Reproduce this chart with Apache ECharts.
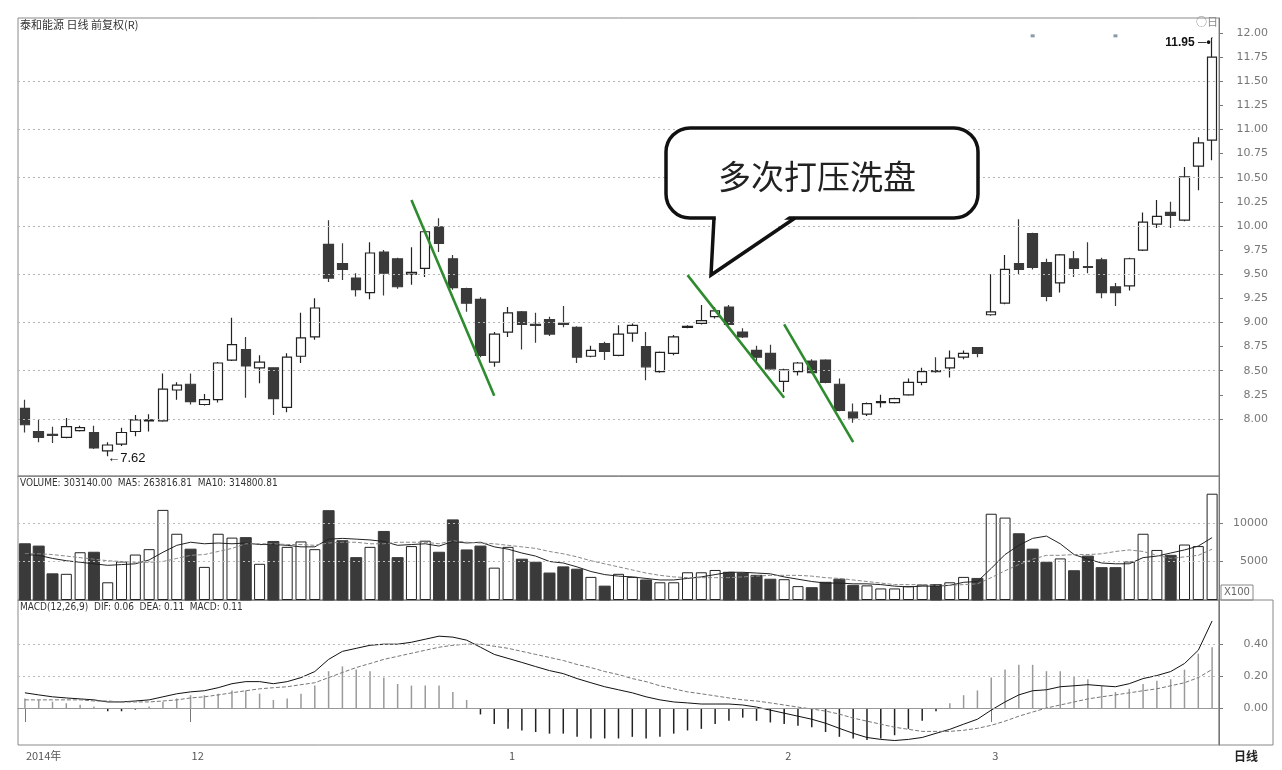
<!DOCTYPE html>
<html><head><meta charset="utf-8">
<script src="https://cdn.jsdelivr.net/npm/echarts@6/dist/echarts.min.js"></script>
<style>html,body{margin:0;padding:0;background:#fff}#c{width:1282px;height:770px}</style>
</head><body><div id="c"></div>
<script>
const dates = [
'2014-11-13','2014-11-14','2014-11-17','2014-11-18','2014-11-19','2014-11-20','2014-11-21','2014-11-24','2014-11-25','2014-11-26','2014-11-27','2014-11-28',
'2014-12-01','2014-12-02','2014-12-03','2014-12-04','2014-12-05','2014-12-08','2014-12-09','2014-12-10','2014-12-11','2014-12-12','2014-12-15','2014-12-16','2014-12-17','2014-12-18','2014-12-19','2014-12-22','2014-12-23','2014-12-24','2014-12-25','2014-12-26','2014-12-29','2014-12-30','2014-12-31',
'2015-01-05','2015-01-06','2015-01-07','2015-01-08','2015-01-09','2015-01-12','2015-01-13','2015-01-14','2015-01-15','2015-01-16','2015-01-19','2015-01-20','2015-01-21','2015-01-22','2015-01-23','2015-01-26','2015-01-27','2015-01-28','2015-01-29','2015-01-30',
'2015-02-02','2015-02-03','2015-02-04','2015-02-05','2015-02-06','2015-02-09','2015-02-10','2015-02-11','2015-02-12','2015-02-13','2015-02-16','2015-02-17','2015-02-25','2015-02-26','2015-02-27',
'2015-03-02','2015-03-03','2015-03-04','2015-03-05','2015-03-06','2015-03-09','2015-03-10','2015-03-11','2015-03-12','2015-03-13','2015-03-16','2015-03-17','2015-03-18','2015-03-19','2015-03-20','2015-03-23','2015-03-24'
];
const opens  = [8.11,7.87,7.84,7.81,7.88,7.86,7.67,7.74,7.87,7.98,7.98,8.30,8.36,8.15,8.20,8.61,8.72,8.53,8.53,8.12,8.65,8.85,9.81,9.61,9.46,9.31,9.73,9.66,9.50,9.56,9.99,9.66,9.35,9.24,8.59,8.90,9.11,8.98,9.03,8.99,8.95,8.65,8.78,8.66,8.89,8.75,8.49,8.68,8.95,8.99,9.06,9.16,8.90,8.71,8.68,8.39,8.49,8.60,8.61,8.36,8.07,8.05,8.17,8.17,8.25,8.38,8.50,8.53,8.64,8.74,9.08,9.20,9.61,9.92,9.62,9.41,9.66,9.58,9.65,9.37,9.38,9.75,10.02,10.14,10.06,10.62,10.89];
const closes = [7.94,7.81,7.83,7.92,7.91,7.70,7.73,7.86,7.99,7.99,8.31,8.35,8.18,8.20,8.58,8.77,8.55,8.59,8.21,8.64,8.84,9.15,9.46,9.55,9.34,9.72,9.51,9.37,9.52,9.94,9.82,9.36,9.20,8.66,8.88,9.10,8.98,8.97,8.88,8.98,8.64,8.71,8.70,8.88,8.97,8.54,8.69,8.85,8.96,9.02,9.12,8.98,8.85,8.64,8.52,8.51,8.58,8.48,8.38,8.09,8.01,8.16,8.18,8.21,8.38,8.49,8.49,8.63,8.68,8.68,9.11,9.55,9.55,9.57,9.27,9.70,9.56,9.57,9.31,9.31,9.66,10.04,10.10,10.11,10.51,10.86,11.75];
const lows   = [7.86,7.76,7.75,7.80,7.87,7.69,7.62,7.72,7.82,7.87,7.97,8.20,8.15,8.14,8.17,8.60,8.22,8.37,8.04,8.07,8.58,8.82,9.42,9.44,9.27,9.24,9.28,9.35,9.39,9.47,9.73,9.34,9.11,8.64,8.54,8.85,8.72,8.79,8.86,8.95,8.58,8.64,8.61,8.65,8.80,8.40,8.48,8.66,8.94,8.98,9.04,8.97,8.84,8.60,8.51,8.28,8.45,8.47,8.37,8.08,7.96,8.03,8.12,8.16,8.24,8.35,8.48,8.43,8.62,8.64,9.07,9.19,9.50,9.55,9.22,9.31,9.47,9.51,9.25,9.17,9.33,9.74,9.98,9.98,10.05,10.37,10.68];
const highs  = [8.20,7.99,7.92,8.01,7.93,7.93,7.76,7.91,8.04,8.05,8.47,8.38,8.47,8.26,8.59,9.05,8.85,8.66,8.53,8.68,9.10,9.25,10.06,9.82,9.51,9.83,9.75,9.67,9.78,9.96,10.08,9.70,9.36,9.26,8.90,9.16,9.12,9.10,9.06,9.17,8.96,8.76,8.80,8.97,8.99,8.90,8.70,8.87,8.97,9.18,9.16,9.18,8.94,8.76,8.77,8.52,8.59,8.62,8.62,8.42,8.16,8.17,8.25,8.22,8.42,8.53,8.64,8.71,8.71,8.74,9.50,9.70,10.07,9.93,9.66,9.71,9.74,9.83,9.67,9.41,9.67,10.14,10.27,10.25,10.61,10.92,11.95];
const volumes = [7300,7000,3400,3400,6200,6200,2300,5000,5900,6600,11700,8600,6600,4300,8600,8100,8100,4700,7600,6900,7600,6600,11600,7700,5500,6900,8900,5500,7000,7700,6200,10400,6500,7000,4200,6900,5300,4900,3500,4300,4000,3000,1800,3400,3000,2600,2300,2300,3600,3600,3900,3600,3500,3200,2700,2700,1800,1600,2300,2700,1900,1900,1500,1500,1800,2000,2000,2300,3000,2800,11200,10700,8600,6600,4900,5400,3800,5700,4200,4200,5000,8600,6500,5800,7200,7000,13800];
const volMA5  = [5900,5800,5400,5100,4900,4700,4500,4600,4700,5200,6200,7100,7500,7300,7400,7300,7400,7200,7200,7100,6900,6900,7900,8000,7900,7800,7600,7100,7200,7300,7000,7600,7400,7500,6900,6600,6100,5700,5000,4800,4300,3700,3300,3100,3000,2800,2600,2600,2800,3000,3300,3600,3600,3500,3400,3000,2700,2400,2200,2200,2100,2100,2000,1800,1700,1800,1800,1900,2300,2400,4100,5900,7100,8000,8300,7300,5900,5300,4800,4700,4700,5500,5700,6100,6500,7000,8100];
const volMA10 = [6000,6000,5900,5700,5500,5300,5100,5000,4900,4900,5000,5400,5800,5900,6300,6700,7300,7300,7300,7200,7200,7100,7400,7500,7500,7300,7300,7500,7500,7500,7300,7700,7500,7400,7300,7100,6900,6700,6300,6000,5600,5100,4700,4300,3900,3500,3200,3000,2900,2900,2900,2900,3000,3100,3200,3200,3200,3100,2900,2800,2600,2400,2200,2000,2000,2000,1900,1900,2000,2100,2900,3800,4600,5300,5800,5800,5900,5900,6000,6300,6500,6300,5800,5400,5600,5800,6600];
const dif = [0.095,0.082,0.070,0.063,0.057,0.051,0.038,0.038,0.044,0.051,0.070,0.089,0.101,0.108,0.127,0.152,0.165,0.165,0.152,0.165,0.190,0.228,0.304,0.354,0.373,0.392,0.399,0.399,0.411,0.430,0.449,0.443,0.424,0.380,0.335,0.310,0.285,0.259,0.234,0.215,0.184,0.158,0.133,0.114,0.095,0.070,0.051,0.038,0.032,0.025,0.025,0.025,0.019,0.006,-0.013,-0.032,-0.051,-0.070,-0.095,-0.127,-0.158,-0.184,-0.196,-0.203,-0.196,-0.184,-0.158,-0.133,-0.101,-0.070,-0.013,0.038,0.082,0.108,0.114,0.133,0.139,0.146,0.139,0.133,0.152,0.184,0.203,0.228,0.278,0.361,0.544];
const dea = [0.051,0.051,0.051,0.051,0.051,0.044,0.044,0.038,0.038,0.038,0.044,0.051,0.063,0.070,0.082,0.095,0.108,0.120,0.127,0.133,0.146,0.158,0.190,0.222,0.253,0.278,0.304,0.323,0.342,0.361,0.380,0.392,0.399,0.399,0.386,0.373,0.354,0.335,0.316,0.297,0.272,0.253,0.228,0.209,0.184,0.165,0.139,0.120,0.101,0.089,0.076,0.063,0.051,0.044,0.032,0.019,0.006,-0.006,-0.019,-0.038,-0.063,-0.082,-0.101,-0.120,-0.133,-0.146,-0.146,-0.146,-0.139,-0.127,-0.108,-0.082,-0.051,-0.025,0.000,0.019,0.038,0.057,0.070,0.082,0.095,0.108,0.120,0.139,0.158,0.190,0.241];
const macdHist = [0.06,0.05,0.04,0.03,0.02,0.01,-0.02,-0.02,-0.01,0.01,0.04,0.06,0.08,0.08,0.09,0.11,0.11,0.09,0.05,0.06,0.09,0.14,0.23,0.26,0.24,0.23,0.19,0.15,0.14,0.14,0.14,0.10,0.05,-0.04,-0.10,-0.13,-0.14,-0.15,-0.16,-0.16,-0.18,-0.19,-0.19,-0.19,-0.18,-0.19,-0.18,-0.16,-0.14,-0.13,-0.10,-0.08,-0.06,-0.08,-0.09,-0.10,-0.11,-0.12,-0.15,-0.18,-0.19,-0.20,-0.19,-0.17,-0.13,-0.08,-0.02,0.03,0.08,0.11,0.19,0.24,0.27,0.27,0.23,0.23,0.20,0.18,0.14,0.10,0.12,0.15,0.17,0.18,0.24,0.34,0.38];
const priceTicks = [8.00,8.25,8.50,8.75,9.00,9.25,9.50,9.75,10.00,10.25,10.50,10.75,11.00,11.25,11.50,11.75,12.00];
const priceGridLines = [8.0,8.5,9.0,9.5,10.0,10.5,11.0,11.5];
const volTicks = [5000,10000];
const macdTicks = [0.00,0.20,0.40];
const trendLines = [[[28,10.27],[34,8.24]],[[48,9.49],[55,8.22]],[[55,8.98],[60,7.76]]];
const eventMarks = [[73, 11.97], [79, 11.97]];
const titleText = '泰和能源 日线 前复权(R)';
const volText = 'VOLUME: 303140.00  MA5: 263816.81  MA10: 314800.81';
const macdText = 'MACD(12,26,9)  DIF: 0.06  DEA: 0.11  MACD: 0.11';
const bubbleText = '多次打压洗盘';

const xLabelAt = dates.map((d, i) => i === 0 ? d.slice(0, 4) + '年' : (d.slice(5, 7) !== dates[i - 1].slice(5, 7) ? String(parseInt(d.slice(5, 7), 10)) : ''));
const candleData = dates.map((d, i) => [opens[i], closes[i], lows[i], highs[i]]);
const volData = volumes.map((v, i) => ({
  value: v,
  itemStyle: closes[i] >= opens[i] ? {color: '#fff', borderColor: '#222', borderWidth: 1} : {color: '#3a3a3a', borderColor: '#3a3a3a'}
}));
const histData = macdHist.map(v => ({value: v, itemStyle: {color: v >= 0 ? '#9a9a9a' : '#222'}}));

const FONT = '"Noto Sans CJK SC", "Noto Sans", sans-serif';
const grids = [
  {left: 18, right: 63, top: 18, height: 458},
  {left: 18, right: 63, top: 476, height: 124},
  {left: 18, right: 63, top: 600, height: 145}
].map(g => Object.assign(g, {show: true, borderColor: '#8a8a8a', borderWidth: 1, backgroundColor: 'transparent'}));

function xAxisFor(idx, showLabels) {
  return {
    type: 'category', gridIndex: idx, data: dates, boundaryGap: true,
    axisLine: {show: true, lineStyle: {color: '#8a8a8a'}},
    axisTick: showLabels ? {show: true, alignWithLabel: true, length: 14, interval: (i) => xLabelAt[i] !== '', lineStyle: {color: '#777'}} : {show: false},
    axisLabel: showLabels ? {show: true, interval: (i) => xLabelAt[i] !== '', formatter: (v, i) => xLabelAt[i], align: 'left', margin: 5, color: '#555', fontSize: 11, fontFamily: FONT, padding: [0, 0, 0, 1]} : {show: false},
    splitLine: {show: false}
  };
}
function yAxisFor(idx, min, max, ticks, fmt) {
  return {
    type: 'value', gridIndex: idx, position: 'right', min: min, max: max, scale: true,
    axisLine: {show: true, lineStyle: {color: '#777'}},
    axisTick: {show: true, customValues: ticks, length: 4, lineStyle: {color: '#777'}},
    axisLabel: {show: true, customValues: ticks, formatter: fmt, align: 'right', margin: 49, color: '#777', fontSize: 11, fontFamily: '"DejaVu Sans", sans-serif'},
    splitLine: {show: false}
  };
}

const chart = echarts.init(document.getElementById('c'), null, {renderer: 'canvas'});
const option = {
  animation: false,
  backgroundColor: '#fff',
  grid: grids,
  xAxis: [xAxisFor(0, false), xAxisFor(1, false), xAxisFor(2, true)],
  yAxis: [
    yAxisFor(0, 7.409, 12.155, priceTicks, v => v.toFixed(2)),
    yAxisFor(1, 0, 16100, volTicks, v => String(v)),
    yAxisFor(2, -0.231, 0.675, macdTicks, v => v.toFixed(2))
  ],
  series: [
    {
      type: 'candlestick', name: 'K', xAxisIndex: 0, yAxisIndex: 0, data: candleData, barWidth: 10,
      itemStyle: {color: '#ffffff', color0: '#3a3a3a', borderColor: '#222', borderColor0: '#3a3a3a', borderWidth: 1.2},
      markLine: {
        silent: true, symbol: ['none', 'none'], animation: false, label: {show: false},
        data: priceGridLines.map(v => ({yAxis: v, lineStyle: {type: [2, 3], color: '#b5b5b5', width: 1}})).concat(
          trendLines.map(seg => [{coord: seg[0], lineStyle: {color: '#2e8b2e', width: 2.6, type: 'solid'}}, {coord: seg[1]}])
        )
      },
      markPoint: {
        symbol: 'circle', symbolSize: 1, itemStyle: {color: '#000'}, silent: true,
        data: [
          {type: 'min', valueDim: 'lowest', label: {show: true, position: 'right', offset: [-6, 3], color: '#111', fontSize: 13, fontFamily: '"Liberation Sans", sans-serif', formatter: p => '\u2190' + Number(p.value).toFixed(2)}},
          {type: 'max', valueDim: 'highest', label: {show: true, position: 'left', offset: [4, 5], color: '#111', fontSize: 12, fontWeight: 'bold', fontFamily: '"Liberation Sans", sans-serif', formatter: p => Number(p.value).toFixed(2) + ' \u2500\u2022'}}
        ].concat(eventMarks.map(c => ({coord: c, symbol: 'rect', symbolSize: [4, 3], itemStyle: {color: '#8a9aa8'}, label: {show: false}})))
      }
    },
    {
      type: 'bar', name: 'VOL', xAxisIndex: 1, yAxisIndex: 1, data: volData, barWidth: 11,
      markLine: {silent: true, symbol: ['none', 'none'], label: {show: false}, data: volTicks.map(v => ({yAxis: v, lineStyle: {type: [2, 3], color: '#bbb', width: 1}}))}
    },
    {type: 'line', name: 'MA5', xAxisIndex: 1, yAxisIndex: 1, data: volMA5, symbol: 'none', lineStyle: {color: '#222', width: 1}},
    {type: 'line', name: 'MA10', xAxisIndex: 1, yAxisIndex: 1, data: volMA10, symbol: 'none', lineStyle: {color: '#888', width: 1, type: [4, 2]}},
    {
      type: 'bar', name: 'MACD', xAxisIndex: 2, yAxisIndex: 2, data: histData, barWidth: 1.5,
      markLine: {silent: true, symbol: ['none', 'none'], label: {show: false}, data: macdTicks.map(v => ({yAxis: v, lineStyle: {type: v === 0 ? 'solid' : [2, 3], color: v === 0 ? '#999' : '#bbb', width: 1}}))}
    },
    {type: 'line', name: 'DIF', xAxisIndex: 2, yAxisIndex: 2, data: dif, symbol: 'none', lineStyle: {color: '#111', width: 1}},
    {type: 'line', name: 'DEA', xAxisIndex: 2, yAxisIndex: 2, data: dea, symbol: 'none', lineStyle: {color: '#777', width: 1, type: [4, 2]}}
  ],
  graphic: [
    {type: 'text', left: 20, top: 19, style: {text: titleText, fill: '#333', font: '11px ' + FONT}},
    {type: 'text', left: 20, top: 478, style: {text: volText, fill: '#333', font: '10px "DejaVu Sans Condensed", sans-serif'}},
    {type: 'text', left: 20, top: 602, style: {text: macdText, fill: '#333', font: '10px "DejaVu Sans Condensed", sans-serif'}},
    {type: 'text', left: 1196, top: 16, style: {text: '\u25cb\u65e5', fill: '#888', font: '11px ' + FONT}},
    {type: 'rect', shape: {x: 1221, y: 585, width: 32, height: 15}, style: {fill: '#fff', stroke: '#888', lineWidth: 1}},
    {type: 'text', left: 1224, top: 587, style: {text: 'X100', fill: '#666', font: '10px "DejaVu Sans", sans-serif'}},
    {type: 'rect', shape: {x: 1219, y: 600, width: 54, height: 145}, style: {fill: 'none', stroke: '#888', lineWidth: 1}},
    {type: 'text', left: 1234, top: 750, style: {text: '日线', fill: '#222', font: 'bold 12px ' + FONT}},
    {type: 'rect', z: 100, shape: {x: 666, y: 128, width: 312, height: 90, r: 24}, style: {fill: '#fff', stroke: '#111', lineWidth: 3.5}},
    {type: 'polygon', z: 101, shape: {points: [[716, 214], [712, 272], [792, 214]]}, style: {fill: '#fff'}},
    {type: 'polyline', z: 102, shape: {points: [[714, 218], [711, 275], [795, 218]]}, style: {stroke: '#111', lineWidth: 3.5, fill: null}},
    {type: 'text', z: 103, left: 718, top: 160, style: {text: bubbleText, fill: '#222', font: '33px "Noto Sans CJK SC", sans-serif'}}
  ]
};
chart.setOption(option);
</script></body></html>
